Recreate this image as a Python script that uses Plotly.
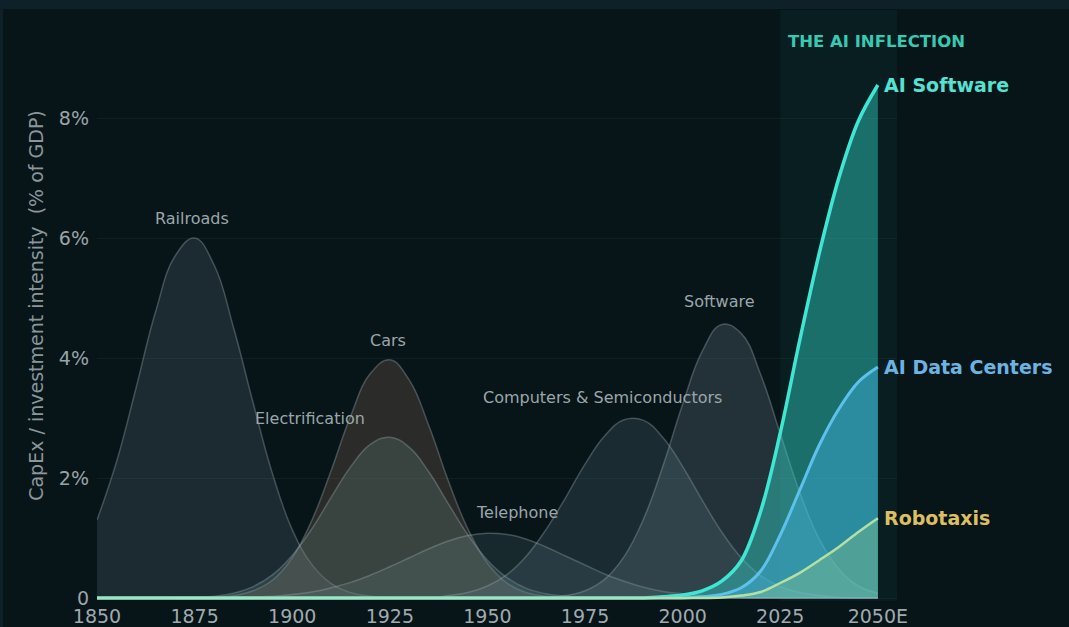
import plotly.graph_objects as go

# ---------------- data ----------------
YEARS = list(range(1850, 2051, 5))
X_TICKS = [1850, 1875, 1900, 1925, 1950, 1975, 2000, 2025, 2050]
X_TICK_TEXT = ["1850", "1875", "1900", "1925", "1950", "1975", "2000", "2025", "2050E"]
Y_TICKS = [0, 2, 4, 6, 8]
Y_TICK_TEXT = ["0", "2%", "4%", "6%", "8%"]

RAILROADS = [1.3, 2.27, 3.5, 4.77, 5.7, 6.0, 5.55, 4.5, 3.25, 2.06, 1.14, 0.56, 0.24, 0.09,
             0.03, 0.01] + [0] * 25
CARS = [0] * 7 + [0.04, 0.12, 0.30, 0.67, 1.29, 2.13, 3.04, 3.74, 3.97, 3.63, 2.87, 1.95,
                  1.15, 0.58, 0.25, 0.09, 0.03, 0.01] + [0] * 16
ELECTRIFICATION = [0] * 4 + [0.01, 0.01, 0.03, 0.08, 0.19, 0.39, 0.71, 1.15, 1.68, 2.19, 2.56,
                             2.68, 2.51, 2.10, 1.57, 1.05, 0.63, 0.34, 0.16, 0.07, 0.03,
                             0.01] + [0] * 15
TELEPHONE = [0] * 6 + [0.0, 0.01, 0.02, 0.03, 0.06, 0.10, 0.17, 0.26, 0.38, 0.52, 0.67, 0.82,
                       0.95, 1.04, 1.08, 1.06, 0.98, 0.85, 0.70, 0.55, 0.40, 0.28, 0.18, 0.11,
                       0.07, 0.04, 0.02, 0.01] + [0] * 7
COMPUTERS = [0] * 18 + [0.04, 0.09, 0.20, 0.39, 0.70, 1.14, 1.67, 2.23, 2.70, 2.97, 2.96, 2.67,
                        2.19, 1.63, 1.10, 0.67, 0.37, 0.19, 0.09, 0.04, 0.01, 0, 0]
SOFTWARE = [0] * 22 + [0.0, 0.01, 0.04, 0.12, 0.31, 0.69, 1.32, 2.21, 3.23, 4.11, 4.56, 4.41,
                       3.72, 2.74, 1.76, 0.98, 0.48, 0.20, 0.08]
AI_SOFTWARE = [0] * 29 + [0.02, 0.05, 0.12, 0.28, 0.62, 1.45, 2.75, 4.3, 5.75, 7.0, 7.95, 8.55]
AI_DATA_CENTERS = [0] * 31 + [0.02, 0.06, 0.17, 0.45, 1.05, 1.8, 2.55, 3.15, 3.6, 3.85]
ROBOTAXIS = [0] * 32 + [0.01, 0.04, 0.1, 0.25, 0.42, 0.63, 0.85, 1.1, 1.33]

# label positions for the historical waves (year, value)
WAVE_LABELS = [
    ("Railroads", 1874.3, 6.32),
    ("Cars", 1924.5, 4.3),
    ("Electrification", 1904.5, 3.0),
    ("Computers & Semiconductors", 1979.4, 3.35),
    ("Telephone", 1957.5, 1.43),
    ("Software", 2009.5, 4.95),
]

FONT = "DejaVu Sans"
BG = "#071519"
PAPER = "#0e2129"

fig = go.Figure()

waves = [
    ("Railroads", RAILROADS, "rgba(115,135,150,0.20)"),
    ("Cars", CARS, "rgba(150,115,90,0.25)"),
    ("Electrification", ELECTRIFICATION, "rgba(100,140,135,0.25)"),
    ("Telephone", TELEPHONE, "rgba(110,140,150,0.17)"),
    ("Computers & Semiconductors", COMPUTERS, "rgba(105,135,150,0.20)"),
    ("Software", SOFTWARE, "rgba(120,145,155,0.24)"),
]
for name, vals, fc in waves:
    fig.add_trace(go.Scatter(
        x=YEARS, y=vals, name=name, mode="lines",
        line=dict(color="rgba(160,175,182,0.35)", width=1.5, shape="spline", smoothing=1.2),
        fill="tozeroy", fillcolor=fc, hoverinfo="skip", showlegend=False))

ai = [
    ("AI Software", AI_SOFTWARE, "#3fe6d3", "rgba(50,210,200,0.45)", 3.5, "#55e2d2"),
    ("AI Data Centers", AI_DATA_CENTERS, "#5cc2ec", "rgba(70,185,238,0.40)", 3, "#6cb3e2"),
    ("Robotaxis", ROBOTAXIS, "#b3e0a6", "rgba(145,200,140,0.35)", 2.5, "#dcbf62"),
]
for name, vals, lc, fc, w, _ in ai:
    fig.add_trace(go.Scatter(
        x=YEARS, y=vals, name=name, mode="lines",
        line=dict(color=lc, width=w, shape="spline", smoothing=1),
        fill="tozeroy", fillcolor=fc, hoverinfo="skip", showlegend=False))

annotations = []
for text, x, y in WAVE_LABELS:
    annotations.append(dict(x=x, y=y, xref="x", yref="y", text=text, showarrow=False,
                            font=dict(family=FONT, size=16, color="#9ca6aa")))
for name, vals, lc, fc, w, tc in ai:
    annotations.append(dict(x=YEARS[-1], y=vals[-1], xref="x", yref="y", text="<b>%s</b>" % name,
                            showarrow=False, xanchor="left", xshift=4,
                            font=dict(family=FONT, size=19, color=tc)))
annotations.append(dict(x=2049.7, y=9.28, xref="x", yref="y", text="<b>THE AI INFLECTION</b>",
                        showarrow=False, font=dict(family=FONT, size=16.5, color="#38c9b2")))

shapes = [
    # dark inner panel
    dict(type="rect", xref="paper", yref="paper", x0=-0.1175, x1=1.215, y0=-0.05, y1=1.0017,
         fillcolor=BG, line=dict(width=0), layer="below"),
    # AI inflection band
    dict(type="rect", xref="x", yref="paper", x0=2025, x1=2054.9, y0=0, y1=1,
         fillcolor="rgba(35,120,115,0.09)", line=dict(width=0), layer="below"),
]

fig.update_layout(
    width=1069, height=627,
    margin=dict(l=97, r=172, t=10, b=26),
    paper_bgcolor=PAPER, plot_bgcolor=BG,
    font=dict(family=FONT, color="#9aa4a8"),
    annotations=annotations, shapes=shapes,
    xaxis=dict(range=[1850, 2054.9], tickvals=X_TICKS, ticktext=X_TICK_TEXT,
               showgrid=False, zeroline=False, showline=False, ticks="", automargin=False,
               ticklabelstandoff=2,
               tickfont=dict(family=FONT, size=19, color="#a0aaae")),
    yaxis=dict(range=[-0.05, 9.8], tickvals=Y_TICKS, ticktext=Y_TICK_TEXT, automargin=False,
               showgrid=True, gridcolor="rgba(120,160,170,0.07)", gridwidth=1,
               zeroline=False, showline=False, ticks="", ticklabelstandoff=7,
               tickfont=dict(family=FONT, size=19, color="#9aa4a8"),
               title=dict(text="CapEx / investment intensity  (% of GDP)", standoff=10,
                          font=dict(family=FONT, size=19, color="#8b969a"))),
)

fig.write_html("out.html")
